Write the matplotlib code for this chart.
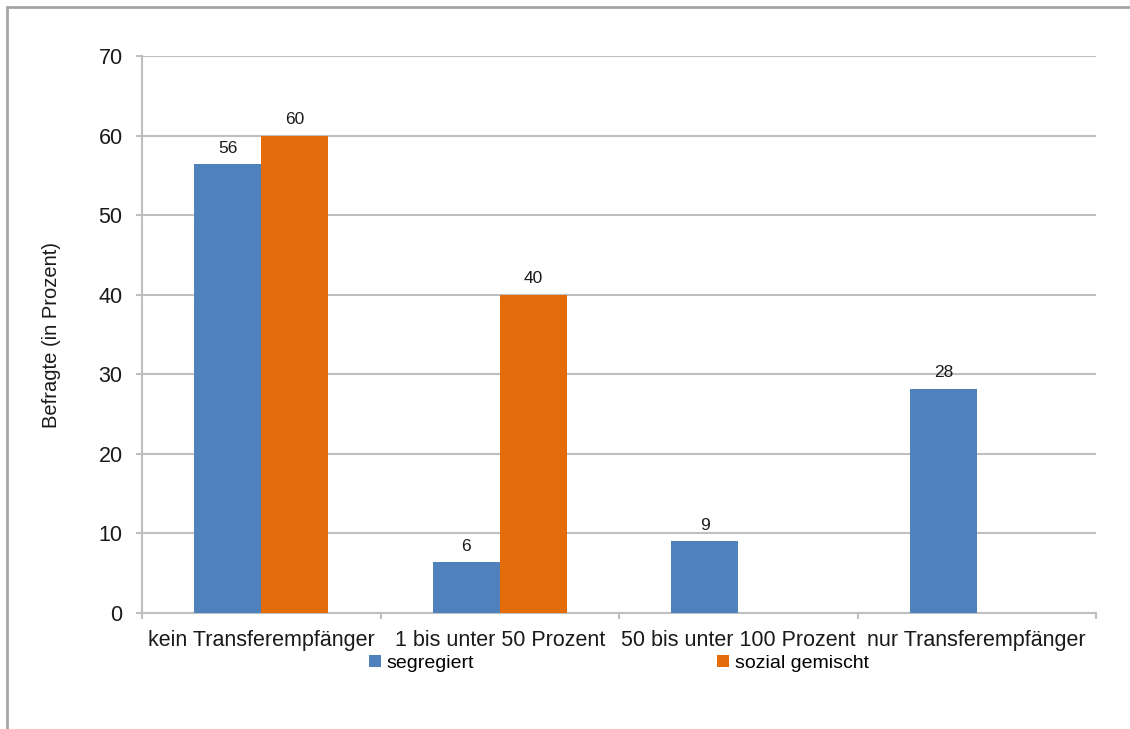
import numpy as np
import matplotlib
matplotlib.use("Agg")
import matplotlib.pyplot as plt
from matplotlib.patches import Rectangle

categories = ["kein Transferempfänger", "1 bis unter 50 Prozent",
              "50 bis unter 100 Prozent", "nur Transferempfänger"]
segregiert = [56.4, 6.4, 9.0, 28.2]
sozial = [60.0, 40.0, 0.0, 0.0]
seg_labels = ["56", "6", "9", "28"]
soz_labels = ["60", "40", "", ""]
yticks = [0, 10, 20, 30, 40, 50, 60, 70]

plt.rcParams['font.family'] = ['Liberation Sans', 'DejaVu Sans']

W, H = 1130, 729
fig = plt.figure(figsize=(W / 100, H / 100), dpi=100)
ax = fig.add_axes([142 / W, 1 - 613 / H, (1096 - 142) / W, (613 - 56) / H])

blue = "#4F81BD"
orange = "#E46C0A"
grid_c = "#BFBFBF"

x = np.arange(len(categories))
bw = 0.28
b1 = ax.bar(x - bw / 2, segregiert, bw, color=blue, label="segregiert", zorder=3)
b2 = ax.bar(x + bw / 2, sozial, bw, color=orange, label="sozial gemischt", zorder=3)

for rect, lab in zip(b1, seg_labels):
    ax.annotate(lab, (rect.get_x() + rect.get_width() / 2, rect.get_height()),
                xytext=(0, 6), textcoords="offset points", ha="center", va="bottom",
                fontsize=12.5, color="#1a1a1a")
for rect, lab in zip(b2, soz_labels):
    if lab:
        ax.annotate(lab, (rect.get_x() + rect.get_width() / 2, rect.get_height()),
                    xytext=(0, 6), textcoords="offset points", ha="center", va="bottom",
                    fontsize=12.5, color="#1a1a1a")

ax.set_xlim(-0.5, len(categories) - 0.5)
ax.set_ylim(0, 70)
ax.set_yticks(yticks)
ax.set_yticklabels([str(t) for t in yticks], fontsize=15.5, color="#1a1a1a")
ax.yaxis.grid(True, color=grid_c, linewidth=1.5, zorder=0)
ax.set_axisbelow(True)

ax.set_xticks(x)
ax.set_xticklabels(categories, fontsize=15.5, color="#1a1a1a")
ax.tick_params(axis="x", length=0, pad=12)
ax.set_xticks(np.arange(-0.5, len(categories), 1.0), minor=True)
ax.tick_params(axis="x", which="minor", length=4.5, color=grid_c, width=1.5)
ax.tick_params(axis="y", length=4.5, color=grid_c, width=1.5, pad=9.5)

for s in ["top", "right"]:
    ax.spines[s].set_visible(False)
for s in ["left", "bottom"]:
    ax.spines[s].set_color(grid_c)
    ax.spines[s].set_linewidth(1.5)

ax.set_ylabel("Befragte (in Prozent)", fontsize=14.5, color="#1a1a1a", labelpad=27)

ax.legend(loc="center", bbox_to_anchor=(0.5, -0.09), ncol=2, frameon=False,
          fontsize=14, handlelength=0.6, handleheight=0.6, handletextpad=0.3,
          columnspacing=12.5)

fig.add_artist(Rectangle((7 / W, -0.1), 1.2, 1.1 - 7 / H, transform=fig.transFigure,
                         fill=False, edgecolor="#A6A6A6", linewidth=2))

fig.savefig("out.png", dpi=100)
